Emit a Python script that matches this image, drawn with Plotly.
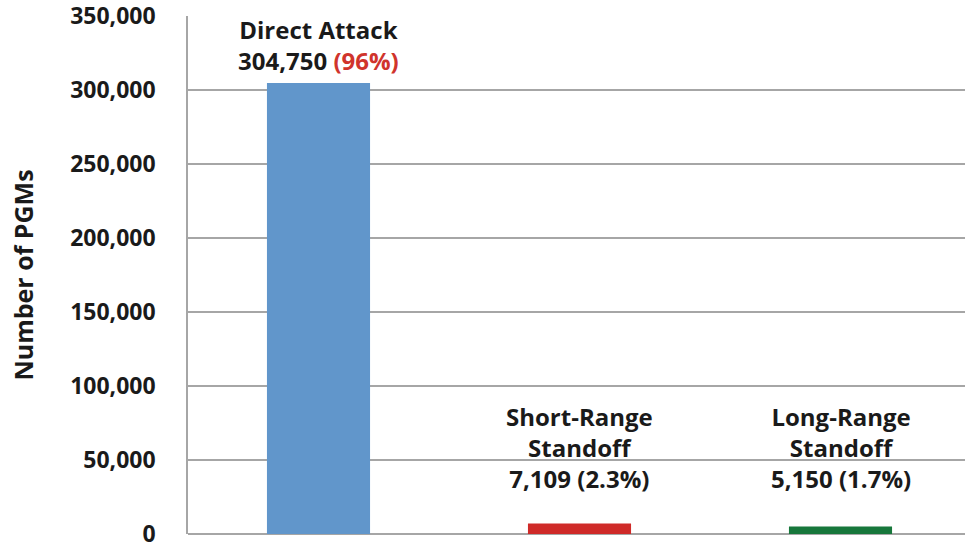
import plotly.graph_objects as go

categories = ["Direct Attack", "Short-Range<br>Standoff", "Long-Range<br>Standoff"]
values = [304750, 7109, 5150]
percents = ["96%", "2.3%", "1.7%"]
colors = ["#6196CB", "#CF2A28", "#17773B"]
pct_colors = ["#D0342C", "#1a1a1a", "#1a1a1a"]
y_ticks = [0, 50000, 100000, 150000, 200000, 250000, 300000, 350000]

FONT = "Open Sans"
label_shifts = [4, 26, 29]

fig = go.Figure()
fig.add_trace(go.Bar(
    x=categories, y=values, marker=dict(color=colors, line=dict(width=0)),
    width=0.395, hoverinfo="skip",
))

for c, v, p, pc, ys in zip(categories, values, percents, pct_colors, label_shifts):
    txt = f"{c}<br>{v:,} <span style='color:{pc}'>({p})</span>"
    fig.add_annotation(
        x=c, y=v, xref="x", yref="y", text=txt, showarrow=False,
        yanchor="bottom", yshift=ys,
        font=dict(family=FONT, size=24, color="#1a1a1a", weight="bold"),
        align="center",
    )

fig.update_layout(
    width=965, height=549,
    margin=dict(l=188, r=0, t=16, b=15, autoexpand=False),
    plot_bgcolor="white", paper_bgcolor="white",
    showlegend=False,
    font=dict(family=FONT, color="#1a1a1a"),
)
fig.update_xaxes(
    range=[-0.5, 2.477], showticklabels=False, showgrid=False,
    showline=False, zeroline=False, automargin=False,
)
fig.update_yaxes(
    range=[0, 350000], tickvals=y_ticks, tickformat=",d", automargin=False,
    ticklabeloverflow="allow",
    tickfont=dict(family=FONT, size=23, color="#1a1a1a", weight="bold"),
    showgrid=True, gridcolor="#A6A6A6", gridwidth=1.5,
    showline=True, linecolor="#A6A6A6", linewidth=1.5,
    zeroline=True, zerolinecolor="#A6A6A6", zerolinewidth=1.5,
    ticks="outside", ticklen=26, tickcolor="rgba(0,0,0,0)",
    title=dict(text="Number of PGMs", standoff=29,
               font=dict(family=FONT, size=25, color="#1a1a1a", weight="bold")),
)

fig.write_html("out.html", config={"displayModeBar": False},
               post_script="document.body.style.margin='0';")
